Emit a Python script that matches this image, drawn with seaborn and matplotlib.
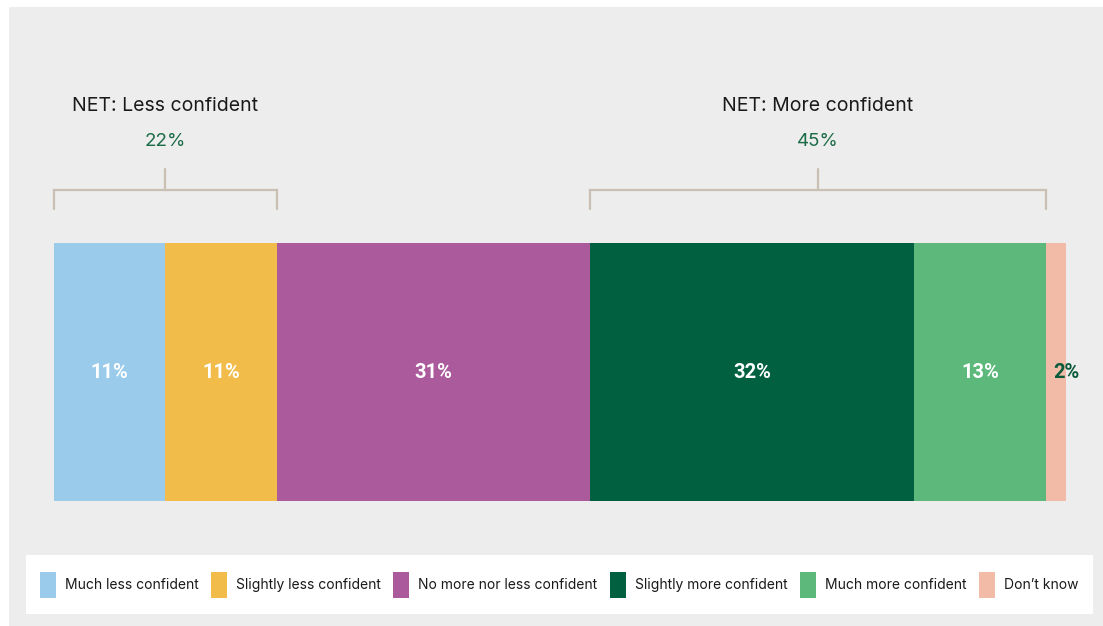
import matplotlib
matplotlib.use("Agg")
import matplotlib.pyplot as plt
from matplotlib.patches import Patch, Rectangle
import numpy as np
import pandas as pd
import seaborn as sns

# Survey responses (percent of respondents)
categories = [
    "Much less confident",
    "Slightly less confident",
    "No more nor less confident",
    "Slightly more confident",
    "Much more confident",
    "Don\u2019t know",
]
values = [11, 11, 31, 32, 13, 2]
colors = ["#9ACBEA", "#F2BC4A", "#AB5A9B", "#006040", "#5CB87B", "#F2BBA8"]

# Net groupings shown above the bar
net_labels = ["NET: Less confident", "NET: More confident"]
net_members = [[0, 1], [3, 4]]

BG = "#EDEDED"
BRACKET = "#C9BFB2"
NET_GREEN = "#1B6B47"
TEXT = "#1A1A1A"

sns.set_theme(style="white")
plt.rcParams["font.family"] = ["Inter", "DejaVu Sans"]

W, H = 1103, 626
fig = plt.figure(figsize=(W / 100, H / 100), dpi=100, facecolor="white")


def fx(px):
    return px / W


def fy(py):
    return 1 - py / H


# grey panel and the white legend strip, kept behind the axes
fig.patches.append(Rectangle((fx(9), 0), 1, fy(7), transform=fig.transFigure,
                             facecolor=BG, edgecolor="none", zorder=-3))
fig.patches.append(Rectangle((fx(26), fy(614)), fx(1067), 59 / H, transform=fig.transFigure,
                             facecolor="white", edgecolor="none", zorder=-2))

# axes covering exactly the stacked bar
ax = fig.add_axes([fx(54), fy(501), fx(1012), 258 / H])
ax.set_facecolor("none")
ax.patch.set_visible(False)

cum = np.cumsum(values)
starts = cum - np.array(values)
df = pd.DataFrame({"row": ["all"] * len(values), "category": categories, "cum": cum})

# stacked bar: draw cumulative totals from the largest down so each segment shows
order = categories[::-1]
sns.barplot(data=df, x="cum", y="row", hue="category", hue_order=order,
            palette=dict(zip(categories, colors)), dodge=False, orient="h",
            width=1.0, errorbar=None, legend=False, ax=ax, linewidth=0, saturation=1)
ax.set_xlim(0, 100)
ax.set_ylim(0.5, -0.5)
ax.axis("off")


def dy(py):
    # vertical offset (pixels from the top) expressed in bar-axes data units
    return (py - 372) / 258


# segment value labels
for v, s, e in zip(values, starts, cum):
    if v >= 5:
        ax.text((s + e) / 2, dy(373), f"{v}%", ha="center", va="center",
                color="white", fontsize=14.5, fontweight="bold", family="Roboto")
    else:
        ax.text(e, dy(373), f"{v}%", ha="center", va="center",
                color="#0B5A3A", fontsize=14.5, fontweight="bold", family="Roboto")

# net brackets with headings
for label, members in zip(net_labels, net_members):
    x0 = starts[members[0]]
    x1 = cum[members[-1]]
    xm = (x0 + x1) / 2
    total = sum(values[i] for i in members)
    ax.plot([x0, x0, x1, x1], [dy(209), dy(190), dy(190), dy(209)],
            color=BRACKET, lw=1.6, clip_on=False, solid_joinstyle="miter")
    ax.plot([xm, xm], [dy(190), dy(169)], color=BRACKET, lw=1.6, clip_on=False)
    ax.text(xm, dy(141), f"{total}%", ha="center", va="center",
            color=NET_GREEN, fontsize=13.5)
    ax.text(xm, dy(106), label, ha="center", va="center",
            color=TEXT, fontsize=14)

handles = [Patch(facecolor=c, edgecolor="none") for c in colors]
fig.legend(handles, categories, loc="center", bbox_to_anchor=(fx(559), fy(585)),
           ncol=6, frameon=False, fontsize=10, handlelength=1.15, handleheight=2.4,
           handletextpad=0.65, columnspacing=0.9, labelcolor=TEXT)

fig.savefig("out.png", dpi=100, facecolor="white")
